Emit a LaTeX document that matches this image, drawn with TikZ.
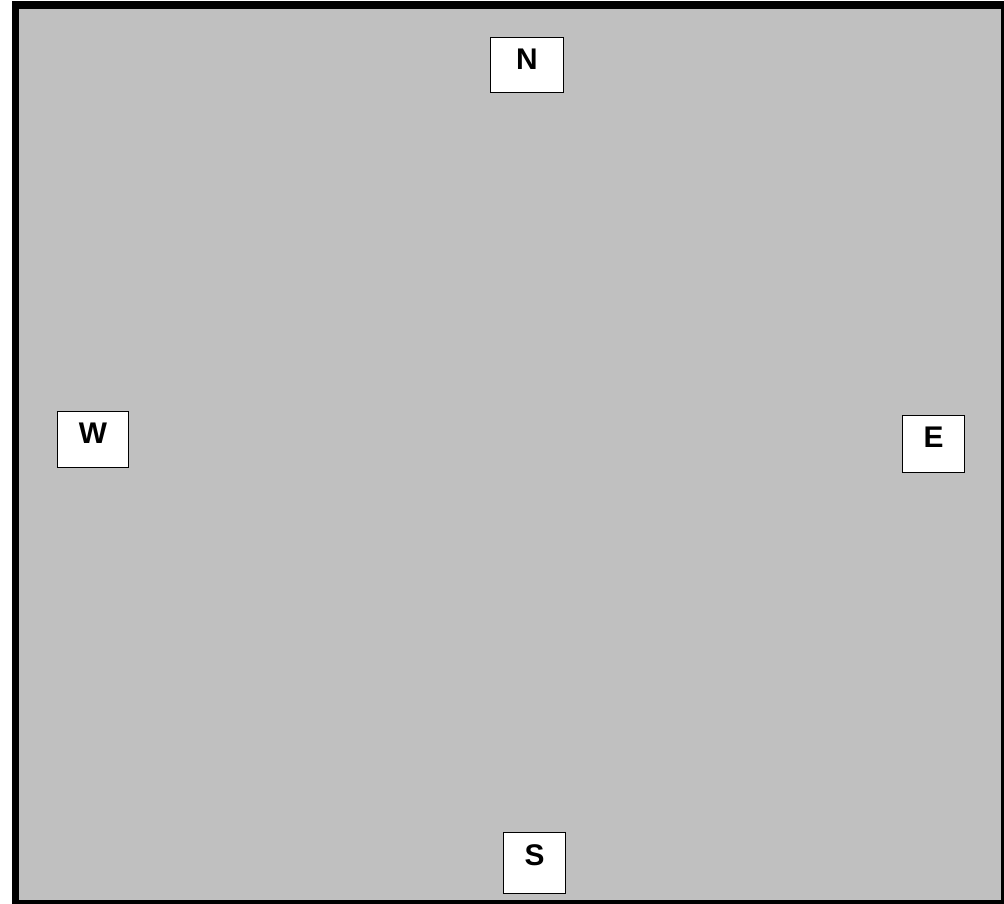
\documentclass[tikz,border=0pt]{standalone}
\usepackage{fontspec}
\setmainfont{Liberation Sans}
\usetikzlibrary{positioning}
\definecolor{fieldgray}{RGB}{192,192,192}

\begin{document}
\begin{tikzpicture}[
        x=0.02cm, y=-0.02cm,
        dirbox/.style={draw, fill=white, line width=0.6pt, anchor=north west, align=center,
            inner sep=0pt, text height=0.634cm, font=\fontsize{17}{20}\selectfont\bfseries}
    ]
        \useasboundingbox (0,0) rectangle (1004,903);
        \clip (0,0) rectangle (1004,903);
        % playing field
        \draw[fill=fieldgray, line width=0.15cm] (15.5,5) rectangle (1004.5,903.5);

        \node[dirbox, minimum width=1.46cm, text depth=0.466cm] (north) at (490,37) {N};
        \node[dirbox, minimum width=1.24cm, text depth=0.566cm, text height=0.654cm] (south) at (503,832) {S};
        \node[dirbox, minimum width=1.42cm, text depth=0.486cm] (west) at (57,411) {W};
        \node[dirbox, minimum width=1.24cm, text depth=0.506cm] (east) at (902,415) {E};
    \end{tikzpicture}
\end{document}
